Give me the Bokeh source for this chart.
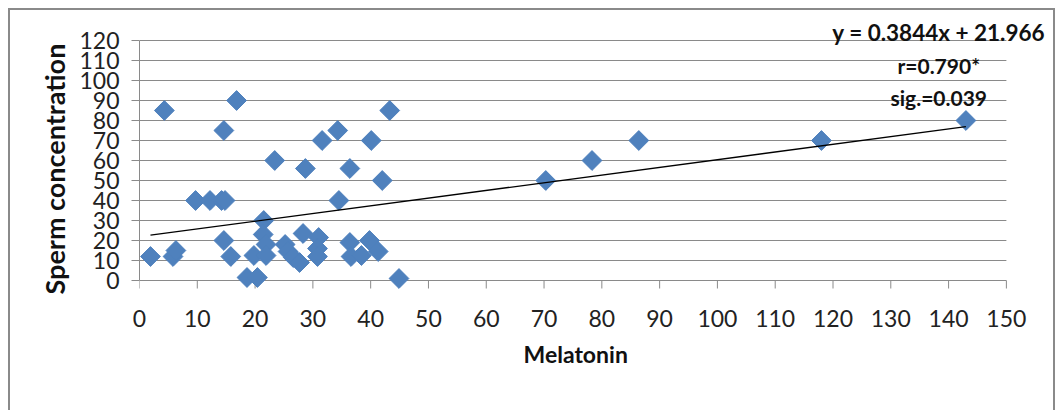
from bokeh.plotting import figure
from bokeh.models import Range1d, FixedTicker, Label, Title
from bokeh.embed import file_html
from bokeh.resources import INLINE

# ---- data ----
melatonin = [1.9, 4.3, 5.8, 6.3, 9.7, 12.2, 14.2, 14.8, 14.6, 14.6, 15.8, 16.8,
             18.6, 20.4, 19.8, 21.5, 21.4, 21.9, 21.9, 23.4, 25.2, 25.7, 26.6, 27.7,
             28.3, 28.7, 31.0, 30.8, 30.8, 31.6, 34.3, 34.5, 36.4, 36.4, 36.6, 38.4,
             39.8, 40.1, 41.3, 42.0, 43.3, 44.9, 70.3, 78.3, 86.4, 118.0, 143.0]
sperm_conc = [12, 85, 12, 15, 40, 40, 40, 40, 75, 20, 12, 90,
              1.5, 1.5, 12.5, 30, 23, 18, 12.5, 60, 18, 14.5, 11.5, 9,
              23.5, 56, 21.5, 16, 12, 70, 75, 40, 56, 19, 12, 12.5,
              20, 70, 14.5, 50, 85, 1, 50, 60, 70, 70, 80]
x_ticks = list(range(0, 151, 10))
y_ticks = list(range(0, 121, 10))
slope = 0.3844
intercept = 21.966
eq_text = "y = 0.3844x + 21.966"
r_text = "r=0.790*"
sig_text = "sig.=0.039"
x_title = "Melatonin"
y_title = "Sperm concentration"

GREY = "#8a8a8a"
BLUE = "#4f81bd"

p = figure(width=1055, height=410, output_backend="svg", toolbar_location=None,
           x_range=Range1d(0, 158.5), y_range=Range1d(-8, 130),
           min_border_left=139, min_border_right=0, min_border_top=20,
           min_border_bottom=114)
p.outline_line_color = None
p.background_fill_color = "white"
p.border_fill_color = "white"
# outer chart-area border (page decoration only)
p.stylesheets = [":host::after { content: ''; position: absolute; left: 8px; top: 8px;"
                 " width: 1043px; height: 420px; border: 2px solid #8a8a8a;"
                 " pointer-events: none; z-index: 10; }"]

# axes
p.xaxis.ticker = FixedTicker(ticks=x_ticks)
p.yaxis.ticker = FixedTicker(ticks=y_ticks)
p.yaxis.bounds = (0, 120)
for ax in (p.xaxis, p.yaxis):
    ax.axis_line_color = GREY
    ax.axis_line_width = 1
    ax.major_tick_line_color = GREY
    ax.major_tick_in = 0
    ax.major_tick_out = 8
    ax.minor_tick_line_color = None
    ax.major_label_text_font = "Lato"
    ax.major_label_text_font_size = "23px"
    ax.major_label_text_color = "#222222"
p.xaxis.axis_line_color = None
p.xaxis.major_tick_line_color = None
p.xaxis.major_tick_out = 0
p.xaxis.major_label_standoff = 13
p.yaxis.major_label_standoff = 12

# axis titles, positioned along the plot-area span
p.add_layout(Title(text=y_title, align="left", offset=2, text_font="Lato",
                   text_font_style="bold", text_font_size="27px",
                   text_color="#111111", standoff=11), "left")
p.add_layout(Title(text=x_title, align="left", offset=384, text_font="Lato",
                   text_font_style="bold", text_font_size="23px",
                   text_color="#111111", standoff=16), "below")

# grid (drawn from the tick lists, limited to the 0..150 span)
p.xgrid.visible = False
p.ygrid.visible = False
p.segment(x0=x_ticks[0], x1=x_ticks[-1], y0=y_ticks, y1=y_ticks,
          line_color=GREY, line_width=1)
# x-axis tick marks below the zero line
p.segment(x0=x_ticks, x1=x_ticks, y0=0, y1=-4, line_color=GREY, line_width=1)

# points
p.scatter(melatonin, sperm_conc, marker="square", size=14, angle=0.785398,
          fill_color=BLUE, line_color=BLUE, line_width=1)

# trendline
x0, x1 = min(melatonin), max(melatonin)
p.line([x0, x1], [slope * x0 + intercept, slope * x1 + intercept],
       line_color="black", line_width=1.3)

# equation texts
for txt, yy, fs in ((eq_text, 124, "22.5px"), (r_text, 107.5, "21px"),
                    (sig_text, 91.5, "21px")):
    p.add_layout(Label(x=138.3, y=yy, text=txt, text_align="center",
                       text_baseline="middle", text_font="Lato",
                       text_font_style="bold", text_font_size=fs,
                       text_color="#111111"))

open("out.html", "w").write(file_html(p, INLINE))
